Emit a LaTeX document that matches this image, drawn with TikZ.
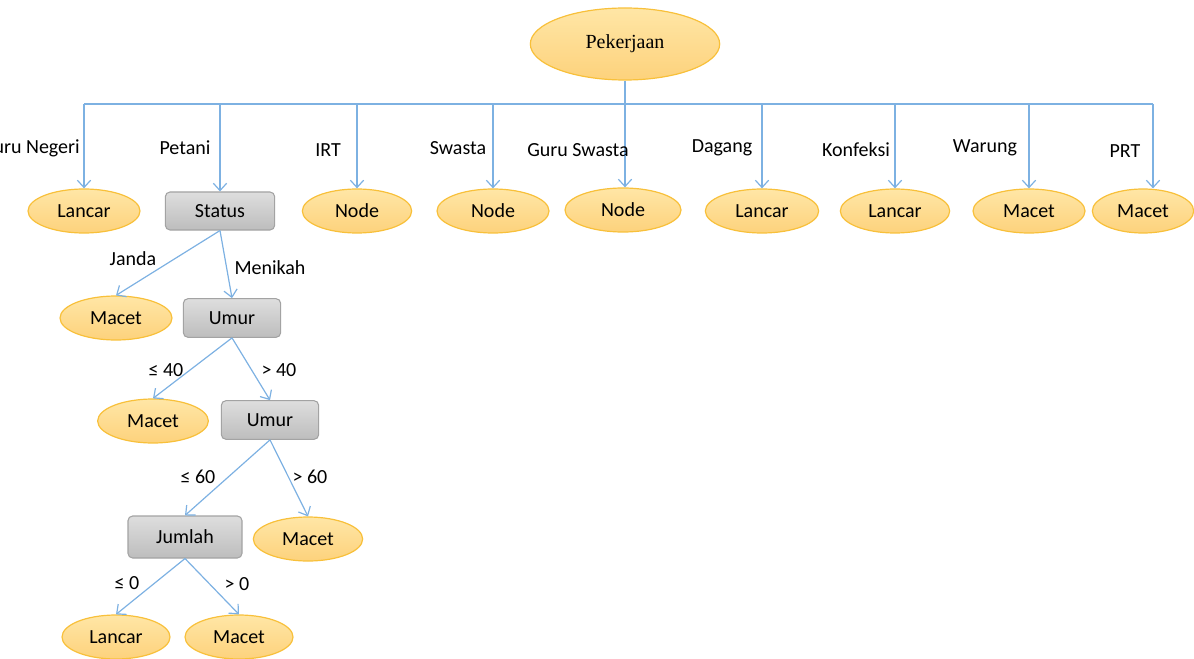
\documentclass[tikz,border=0pt]{standalone}
\usepackage{fontspec}
\setmainfont{Carlito}
\newfontfamily\serifhead{Liberation Serif}
\usetikzlibrary{shapes.geometric,arrows.meta}
\definecolor{lineblue}{HTML}{7DB1E2}
\definecolor{ellTop}{HTML}{FFE6A6}
\definecolor{ellBot}{HTML}{FDD27C}
\definecolor{ellDraw}{HTML}{F8C03A}
\definecolor{boxTop}{HTML}{DEDEDE}
\definecolor{boxBot}{HTML}{BDBDBD}
\definecolor{boxDraw}{HTML}{A3A3A3}
\tikzset{
  leaf/.style={ellipse, top color=ellTop, bottom color=ellBot, draw=ellDraw, line width=0.9pt,
     minimum width=82pt, minimum height=33pt, inner sep=0pt, font=\fontsize{15}{17}\selectfont},
  test/.style={rectangle, rounded corners=3.5pt, top color=boxTop, bottom color=boxBot, draw=boxDraw,
     line width=0.8pt, minimum width=80pt, minimum height=29pt, inner sep=0pt, font=\fontsize{15}{17}\selectfont},
  conn/.style={draw=lineblue, line width=0.9pt, -{Straight Barb[length=5.5pt,width=10pt,line width=0.9pt]}},
  bus/.style={draw=lineblue, line width=0.9pt},
  lbl/.style={inner sep=0pt, font=\fontsize{15}{17}\selectfont},
}
\begin{document}
\begin{tikzpicture}[x=0.75pt,y=-0.75pt]
\useasboundingbox (0,0) rectangle (1194,659);
\clip (0,0) rectangle (1194,659);
% root
\node[ellipse, top color=ellTop, bottom color=ellBot, draw=ellDraw, line width=0.9pt,
  minimum width=142pt, minimum height=54pt, inner sep=0pt, font=\serifhead\fontsize{15}{17}\selectfont] (pek) at (625,44) {Pekerjaan};
% first level
\node[leaf, minimum width=84pt] (l1) at (84,211) {Lancar};
\node[test, minimum width=82pt, minimum height=28.5pt] (status) at (220,211) {Status};
\node[leaf] (l3) at (357,211) {Node};
\node[leaf, minimum width=84pt] (l4) at (493,211) {Node};
\node[leaf, minimum width=87pt] (l5) at (623,210) {Node};
\node[leaf, minimum width=85pt] (l6) at (762,211) {Lancar};
\node[leaf] (l7) at (895,211) {Lancar};
\node[leaf, minimum width=84pt] (l8) at (1029,211) {Macet};
\node[leaf, minimum width=76pt] (l9) at (1143,211) {Macet};
% bus
\coordinate (busL) at (84,104);
\coordinate (busR) at (1153,104);
\draw[bus] (busL) -- (busR);
\draw[conn] (pek.south) -- (pek.south |- l5.north);
\draw[conn] (busL) -- (l1.north);
\draw[conn] (status.north |- busL) -- (status.north);
\draw[conn] (l3.north |- busL) -- (l3.north);
\draw[conn] (l4.north |- busL) -- (l4.north);
\draw[conn] (l6.north |- busL) -- (l6.north);
\draw[conn] (l7.north |- busL) -- (l7.north);
\draw[conn] (l8.north |- busL) -- (l8.north);
\draw[conn] (busR) -- (busR |- l9.north);
% level labels
\node[lbl, anchor=east] (t1) at (80,148) {Guru Negeri};
\node[lbl] (t2) at (185,148) {Petani};
\node[lbl] (t3) at (328,150) {IRT};
\node[lbl] (t4) at (458,148) {Swasta};
\node[lbl] (t5) at (578,150) {Guru Swasta};
\node[lbl] (t6) at (722,148) {Dagang};
\node[lbl] (t7) at (856,150) {Konfeksi};
\node[lbl] (t8) at (985,148) {Warung};
\node[lbl] (t9) at (1125,151) {PRT};
% status subtree
\node[leaf, minimum width=84pt] (m1) at (116,318) {Macet};
\node[test, minimum width=73pt] (umur1) at (232,318) {Umur};
\draw[conn] (status.south) -- (m1.north);
\draw[conn] (status.south) -- (umur1.north);
\node[lbl] (tj) at (133,259) {Janda};
\node[lbl] (tm) at (270,268) {Menikah};
% umur1 subtree
\node[leaf, minimum width=83pt] (m2) at (153,421) {Macet};
\node[test, minimum width=73pt] (umur2) at (270,420) {Umur};
\draw[conn] (umur1.south) -- (m2.north);
\draw[conn] (umur1.south) -- (umur2.north);
\node[lbl] (tle40) at (166,370) {≤ 40};
\node[lbl] (tgt40) at (279,370) {> 40};
% umur2 subtree
\node[test, minimum width=85.5pt, minimum height=31.5pt] (jml) at (185,537) {Jumlah};
\node[leaf] (m3) at (308,539) {Macet};
\draw[conn] (umur2.south) -- (jml.north);
\draw[conn] (umur2.south) -- (m3.north);
\node[lbl] (tle60) at (198,477) {≤ 60};
\node[lbl] (tgt60) at (310,477) {> 60};
% jumlah subtree
\node[leaf, minimum width=81pt] (l10) at (116,637) {Lancar};
\node[leaf, minimum width=81pt] (m4) at (239,637) {Macet};
\draw[conn] (jml.south) -- (l10.north);
\draw[conn] (jml.south) -- (m4.north);
\node[lbl] (tle0) at (127,583) {≤ 0};
\node[lbl] (tgt0) at (237,584) {> 0};
\end{tikzpicture}
\end{document}
